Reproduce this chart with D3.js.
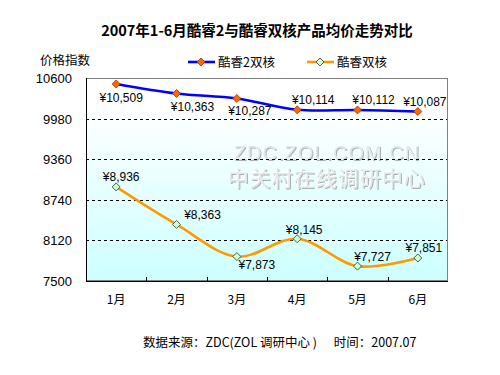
<!DOCTYPE html>
<html>
<head>
<meta charset="utf-8">
<script src="https://cdn.jsdelivr.net/npm/d3@7"></script>
<style>
  html, body { margin: 0; padding: 0; background: #fff; }
  svg { display: block; }
</style>
</head>
<body>
<div id="chart"></div>
<script>
// 数据
const MONTHS = ["1月", "2月", "3月", "4月", "5月", "6月"];
const CORE2 = [10509, 10363, 10287, 10114, 10112, 10087];
const CORE_DUO = [8936, 8363, 7873, 8145, 7727, 7851];
const Y_TICKS = [7500, 8120, 8740, 9360, 9980, 10600];
const SERIES_NAMES = ["酷睿2双核", "酷睿双核"];

// 数据标签相对数据点的偏移（布局）
const OFF_CORE2 = [[5, 14], [16, 13], [13, 13], [16, -10], [16, -10], [7, -10]];
const OFF_DUO = [[5, -10], [26, -9], [20, 8], [7, -9], [15, -9], [6, -10]];

const W = 500, H = 375;
const ML = 86, MR = 52, TOP = 78, BOT = 94;
const FONT = "'Liberation Sans', Arial, 'Noto Sans CJK SC', sans-serif";
const CJK = "'Noto Sans CJK SC', 'Liberation Sans', sans-serif";

const svg = d3.select("#chart").append("svg")
  .attr("width", W).attr("height", H).attr("viewBox", `0 0 ${W} ${H}`);

const x = d3.scaleBand().domain(MONTHS).range([ML, W - MR]);
const y = d3.scaleLinear().domain([7500, 10600]).range([H - BOT, TOP]);
const cx = m => x(m) + x.bandwidth() / 2;

// 背景渐变
const defs = svg.append("defs");
const grad = defs.append("linearGradient").attr("id", "bg")
  .attr("x1", 0).attr("y1", 0).attr("x2", 0).attr("y2", 1);
grad.append("stop").attr("offset", "0%").attr("stop-color", "#ffffff");
grad.append("stop").attr("offset", "15%").attr("stop-color", "#ffffff");
grad.append("stop").attr("offset", "100%").attr("stop-color", "#ccffff");

// 浮雕水印滤镜
const emb = defs.append("filter").attr("id", "emboss")
  .attr("x", "-5%").attr("y", "-20%").attr("width", "110%").attr("height", "140%");
emb.append("feOffset").attr("in", "SourceAlpha").attr("dx", 1).attr("dy", 1).attr("result", "dn");
emb.append("feFlood").attr("flood-color", "#a8b2b2");
emb.append("feComposite").attr("in2", "dn").attr("operator", "in").attr("result", "shadow");
emb.append("feOffset").attr("in", "SourceAlpha").attr("dx", -1).attr("dy", -1).attr("result", "up");
emb.append("feFlood").attr("flood-color", "#ffffff");
emb.append("feComposite").attr("in2", "up").attr("operator", "in").attr("result", "hi");
const mg = emb.append("feMerge");
mg.append("feMergeNode").attr("in", "shadow");
mg.append("feMergeNode").attr("in", "hi");
mg.append("feMergeNode").attr("in", "SourceGraphic");

svg.append("rect").attr("x", ML).attr("y", TOP)
  .attr("width", W - MR - ML).attr("height", H - BOT - TOP)
  .attr("fill", "url(#bg)");

// 水印
const wm = svg.append("g").attr("text-anchor", "middle").attr("filter", "url(#emboss)");
wm.append("text").attr("x", 327).attr("y", 160)
  .attr("style", `font:400 20px ${FONT};fill:#e0e8e8;letter-spacing:1px`).text("ZDC.ZOL.COM.CN");
wm.append("text").attr("x", 327).attr("y", 186)
  .attr("style", `font:400 21px ${CJK};fill:#e0e8e8;letter-spacing:1px`).text("中关村在线调研中心");

// 网格
Y_TICKS.forEach(v => {
  if (v !== 7500 && v !== 10600) {
    svg.append("line").attr("x1", ML).attr("x2", W - MR)
      .attr("y1", Math.round(y(v)) + 0.5).attr("y2", Math.round(y(v)) + 0.5)
      .attr("stroke", "#000").attr("stroke-dasharray", "3,3");
  }
  svg.append("text").attr("x", 72).attr("y", y(v) + 5)
    .attr("text-anchor", "end")
    .attr("style", `font:13px ${FONT};fill:#000`).text(v);
});

// 边框
svg.append("rect").attr("x", ML + 0.5).attr("y", TOP + 0.5)
  .attr("width", W - MR - ML - 1).attr("height", H - BOT - TOP - 1)
  .attr("fill", "none").attr("stroke", "#808080");
svg.append("line").attr("x1", ML + 0.5).attr("x2", ML + 0.5)
  .attr("y1", TOP).attr("y2", H - BOT).attr("stroke", "#000");
svg.append("line").attr("x1", ML).attr("x2", W - MR)
  .attr("y1", H - BOT + 0.5).attr("y2", H - BOT + 0.5).attr("stroke", "#000");

// x 轴刻度
MONTHS.forEach((m, i) => {
  if (i > 0) {
    svg.append("line").attr("x1", Math.round(x(m)) + 0.5).attr("x2", Math.round(x(m)) + 0.5)
      .attr("y1", H - BOT).attr("y2", H - BOT - 4).attr("stroke", "#000");
  }
  svg.append("text").attr("x", cx(m)).attr("y", 304)
    .attr("text-anchor", "middle")
    .attr("style", `font:12px ${CJK};fill:#000`).text(m);
});

// 折线
const line = d3.line().x((d, i) => cx(MONTHS[i])).y(d => y(d)).curve(d3.curveCatmullRom.alpha(0.5));
svg.append("path").datum(CORE2).attr("d", line)
  .attr("fill", "none").attr("stroke", "#0000ff").attr("stroke-width", 2.6);
svg.append("path").datum(CORE_DUO).attr("d", line)
  .attr("fill", "none").attr("stroke", "#ff9900").attr("stroke-width", 2.6);

const diamond = (g, px, py, fill) => g.append("path")
  .attr("d", `M${px},${py - 4} L${px + 4},${py} L${px},${py + 4} L${px - 4},${py} Z`)
  .attr("fill", fill).attr("stroke", fill === "#ff6600" ? "#993300" : "#333333").attr("stroke-width", 0.8);

const fmt = d3.format(",");
[[CORE2, OFF_CORE2, "#ff6600"], [CORE_DUO, OFF_DUO, "#ccffcc"]].forEach(([vals, offs, mk]) => {
  const g = svg.append("g");
  vals.forEach((v, i) => {
    const px = cx(MONTHS[i]), py = y(v);
    diamond(g, px, py, mk);
    g.append("text").attr("x", px + offs[i][0]).attr("y", py + offs[i][1] + 4)
      .attr("text-anchor", "middle")
      .attr("style", `font:12px ${FONT};fill:#000`).text("¥" + fmt(v));
  });
});

// 标题
svg.append("text").attr("x", 257).attr("y", 36).attr("text-anchor", "middle")
  .attr("style", `font:700 14.5px ${CJK};fill:#000`)
  .text("2007年1-6月酷睿2与酷睿双核产品均价走势对比");

svg.append("text").attr("x", 40).attr("y", 65)
  .attr("style", `font:12.5px ${CJK};fill:#000`).text("价格指数");

// 图例
const lg = svg.append("g");
[[188, "#0000ff", "#ff6600"], [307, "#ff9900", "#ccffcc"]].forEach(([lx, c, mk], i) => {
  lg.append("line").attr("x1", lx).attr("x2", lx + 27).attr("y1", 62).attr("y2", 62)
    .attr("stroke", c).attr("stroke-width", 2.6);
  diamond(lg, lx + 13, 62, mk);
  lg.append("text").attr("x", lx + 30).attr("y", 67)
    .attr("style", `font:12.5px ${CJK};fill:#000`).text(SERIES_NAMES[i]);
});

// 数据来源
svg.append("text").attr("x", 143).attr("y", 347)
  .attr("style", `font:12.5px ${CJK};fill:#000`)
  .text("数据来源：ZDC(ZOL 调研中心 )\u00a0\u00a0\u00a0\u00a0\u00a0\u00a0时间：2007.07");
</script>
</body>
</html>
